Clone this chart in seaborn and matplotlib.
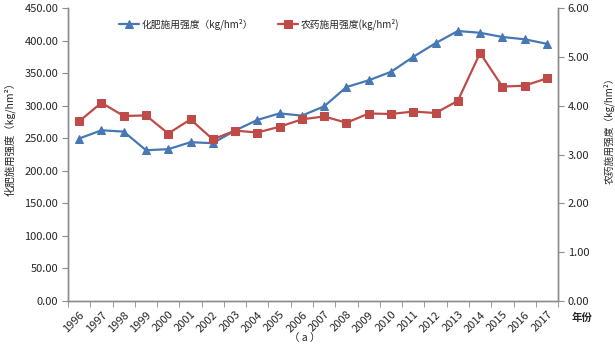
import numpy as np
import pandas as pd
import matplotlib
matplotlib.use("Agg")
import matplotlib.pyplot as plt
from matplotlib.ticker import FixedLocator, FormatStrFormatter
import seaborn as sns

# data
years = [str(y) for y in range(1996, 2018)]
fertilizer = [249.6, 262.2, 260.2, 231.6, 233.2, 243.9, 242.4, 261.8, 278.1, 288.2, 284.7,
              299.0, 328.6, 339.0, 352.0, 375.0, 396.0, 414.7, 412.0, 405.5, 402.0, 395.0]
pesticide = [3.68, 4.06, 3.79, 3.80, 3.43, 3.72, 3.31, 3.49, 3.45, 3.57, 3.72,
             3.78, 3.65, 3.84, 3.83, 3.88, 3.85, 4.10, 5.08, 4.39, 4.41, 4.56]
fert_label = '化肥施用强度（kg/hm²）'
pest_label = '农药施用强度(kg/hm²)'
left_ylabel = '化肥施用强度（kg/hm²）'
right_ylabel = '农药施用强度（kg/hm²）'

df = pd.DataFrame({'pos': np.arange(len(years)), 'year': years,
                   'fert': fertilizer, 'pest': pesticide})

sns.set_style("white")
plt.rcParams['font.family'] = ['Noto Sans CJK SC', 'DejaVu Sans']

blue = '#4678B4'
red = '#BE4B48'
grey = '#8C8C8C'

fig = plt.figure(figsize=(6.15, 3.49), dpi=100)
ax = fig.add_axes([0.1106, 0.1375, 0.7968, 0.8395])
ax2 = ax.twinx()

sns.lineplot(data=df, x='pos', y='fert', ax=ax, color=blue, marker='^', markersize=6,
             markeredgecolor=blue, linewidth=1.6, label=fert_label, legend=False)
sns.lineplot(data=df, x='pos', y='pest', ax=ax2, color=red, marker='s', markersize=5.5,
             markeredgecolor=red, linewidth=1.6, label=pest_label, legend=False)

n = len(years)
ax.set_xlim(-0.5, n - 0.5)
ax.set_ylim(0, 450)
ax2.set_ylim(0, 6)
ax.set_yticks(np.arange(0, 451, 50))
ax2.set_yticks(np.arange(0, 6.01, 1))
ax.yaxis.set_major_formatter(FormatStrFormatter('%.2f'))
ax2.yaxis.set_major_formatter(FormatStrFormatter('%.2f'))

# category labels at centres, tick marks at category boundaries
ax.set_xticks(df['pos'])
ax.set_xticklabels(years, rotation=45, ha='right', va='top', rotation_mode='anchor', fontsize=8)
ax.xaxis.set_minor_locator(FixedLocator(np.arange(-0.5, n, 1.0)))
ax.tick_params(axis='x', which='major', length=0, pad=6)
ax.tick_params(axis='x', which='minor', length=4, color=grey, direction='out', bottom=True)
ax.tick_params(axis='y', length=4, color=grey, direction='out', left=True, labelsize=8, pad=3)
ax2.tick_params(axis='y', length=4, color=grey, direction='out', right=True, labelsize=8, pad=3)

for a in (ax, ax2):
    a.set_xlabel('')
    a.spines['top'].set_visible(False)
    for s in ('left', 'right', 'bottom'):
        a.spines[s].set_color(grey)
        a.spines[s].set_linewidth(1.0)

ax.set_ylabel(left_ylabel, fontsize=7.5)
ax.yaxis.set_label_coords(-0.108, 0.563)
ax2.set_ylabel(right_ylabel, fontsize=7)
ax2.yaxis.set_label_coords(1.092, 0.59)

h1, l1 = ax.get_legend_handles_labels()
h2, l2 = ax2.get_legend_handles_labels()
ax.legend(h1 + h2, l1 + l2, loc='center', bbox_to_anchor=(0.39, 0.945), ncol=2,
          frameon=False, fontsize=7, columnspacing=2.6, handlelength=2.0,
          handletextpad=0.3)

ax.text(1.027, -0.058, '年份', transform=ax.transAxes, fontsize=7.5, fontweight='bold',
        ha='left', va='center')
fig.text(0.496, 0.032, '（ a ）', fontsize=7.5, ha='center', va='center')

fig.savefig('out.png', dpi=100)
